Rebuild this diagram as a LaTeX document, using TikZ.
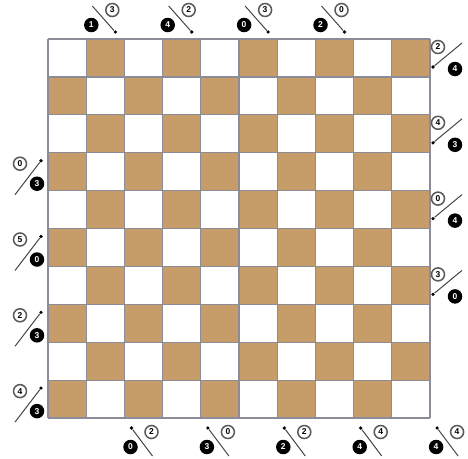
\documentclass[tikz,border=0pt]{standalone}
\usepackage{fontspec}
\setmainfont{Liberation Sans}
\definecolor{boardbrown}{RGB}{198,156,104}
\definecolor{gridgray}{RGB}{140,140,152}
\tikzset{
  numfont/.style={font=\bfseries\fontsize{8.5}{8.5}\selectfont},
  blk/.style={circle, fill=black, text=white, inner sep=0pt, minimum size=14.5pt, numfont},
  wht/.style={circle, draw=gray!70!black, line width=1.5pt, fill=white, text=black, inner sep=0pt, minimum size=13pt, numfont},
  slash/.style={draw=gray!55!black, line width=1pt},
  tipdot/.style={circle, fill=black, inner sep=0pt, minimum size=3.6pt},
  gridline/.style={draw=gridgray, line width=1.2pt}
}
% top: name, cx, black, white
\newcommand\TopLab[4]{%
  \coordinate (#1e) at (#2-13,6);
  \node[tipdot] (#1d) at (#2+10,32) {};
  \draw[slash] (#1e) -- (#1d);
  \node[blk] (#1b) at (#2-14,25) {#3};
  \node[wht] (#1w) at (#2+7,10) {#4};
}
% bottom: name, cx, black, white
\newcommand\BotLab[4]{%
  \node[tipdot] (#1d) at (#2-12,428) {};
  \coordinate (#1e) at (#2+9,456);
  \draw[slash] (#1d) -- (#1e);
  \node[blk] (#1b) at (#2-13,447) {#3};
  \node[wht] (#1w) at (#2+8,432) {#4};
}
% left: name, cy, white, black
\newcommand\LeftLab[4]{%
  \coordinate (#1e) at (15,#2+23);
  \node[tipdot] (#1d) at (41,#2-11) {};
  \draw[slash] (#1e) -- (#1d);
  \node[wht] (#1w) at (20,#2-8) {#3};
  \node[blk] (#1b) at (37,#2+12) {#4};
}
% right: name, cy, white, black
\newcommand\RightLab[4]{%
  \node[tipdot] (#1d) at (433,#2+9) {};
  \coordinate (#1e) at (462,#2-15);
  \draw[slash] (#1d) -- (#1e);
  \node[wht] (#1w) at (438,#2-11) {#3};
  \node[blk] (#1b) at (455,#2+11) {#4};
}
\begin{document}
\begin{tikzpicture}[x=1pt,y=-1pt]
  \useasboundingbox (0,0) rectangle (468,458);
  \fill[white] (0,0) rectangle (468,458);
  % board cells
  \foreach \r in {0,...,9}{
    \foreach \c in {0,...,9}{
      \pgfmathtruncatemacro\pp{mod(\r+\c,2)}
      \ifnum\pp=1
        \fill[boardbrown] (48+\c*38.2,39+\r*37.9) rectangle ++(38.2,37.9);
      \fi
    }
  }
  % grid
  \foreach \i in {0,...,10}{
    \draw[gridline] (48+\i*38.2,39) -- (48+\i*38.2,418);
    \draw[gridline] (48,39+\i*37.9) -- (430,39+\i*37.9);
  }
  % top clues (columns 1,3,5,7)
  \TopLab{ta}{105.3}{1}{3}
  \TopLab{tb}{181.7}{4}{2}
  \TopLab{tc}{258.1}{0}{3}
  \TopLab{td}{334.5}{2}{0}
  % bottom clues (columns 2,4,6,8,10)
  \BotLab{ba}{143.5}{0}{2}
  \BotLab{bb}{219.9}{3}{0}
  \BotLab{bc}{296.3}{2}{2}
  \BotLab{bd}{372.7}{4}{4}
  \BotLab{be}{449.1}{4}{4}
  % left clues (rows 3,5,7,9)
  \LeftLab{la}{171.7}{0}{3}
  \LeftLab{lb}{247.5}{5}{0}
  \LeftLab{lc}{323.3}{2}{3}
  \LeftLab{ld}{399.1}{4}{3}
  % right clues (rows 0,2,4,6)
  \RightLab{ra}{58}{2}{4}
  \RightLab{rb}{133.8}{4}{3}
  \RightLab{rc}{209.6}{0}{4}
  \RightLab{rd}{285.4}{3}{0}
\end{tikzpicture}
\end{document}
